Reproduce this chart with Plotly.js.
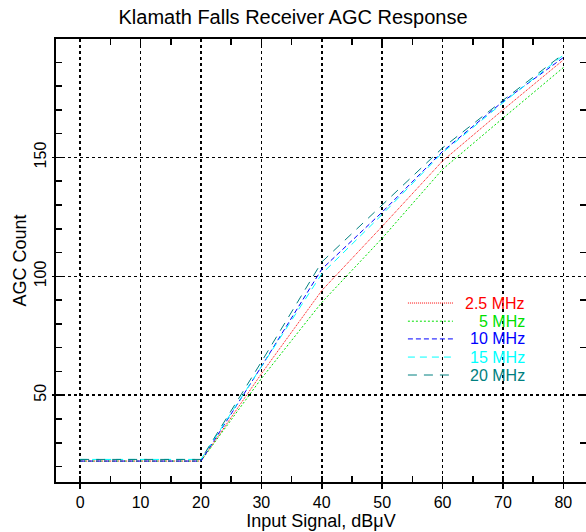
<!DOCTYPE html>
<html>
<head>
<meta charset="utf-8">
<script src="https://cdn.plot.ly/plotly-3.0.1.min.js"></script>
<style>html,body{margin:0;padding:0;background:#fff;}#chart{width:586px;height:532px;}</style>
</head>
<body>
<div id="chart"></div>
<script>
// Input signal, dBµV
const inputSignal = [0, 10, 20, 30, 40, 50, 60, 70, 80];
// AGC counts for each frequency
const agc2p5MHz = [22.3, 22.3, 22.3, 59, 94, 121, 148.5, 170, 191];
const agc5MHz   = [22.3, 22.3, 22.3, 57, 89, 116, 145, 166.5, 187.8];
const agc10MHz  = [22.3, 22.3, 22.3, 62, 103, 127, 152.5, 173.5, 192];
const agc15MHz  = [23, 23, 23, 62, 101, 126, 152, 173, 193];
const agc20MHz  = [23, 23, 23, 64, 106, 130, 154, 174, 193.5];
const seriesNames = ['2.5 MHz', '5 MHz', '10 MHz', '15 MHz', '20 MHz'];
const seriesValues = [agc2p5MHz, agc5MHz, agc10MHz, agc15MHz, agc20MHz];

const colors = ['#ff0000', '#00e000', '#0000ff', '#00ffff', '#008080'];
const dashes = ['1px,1px', '2px,2px', '5px,3px', '7px,5px', '9px,7px'];

const traces = seriesValues.map((vals, i) => ({
  x: inputSignal, y: vals, type: 'scatter', mode: 'lines', name: seriesNames[i],
  line: {color: colors[i], width: 1, dash: dashes[i]}, showlegend: false
}));

const font = {family: 'Liberation Sans, Arial, sans-serif', color: '#000'};
const legendY = [0.404, 0.363, 0.323, 0.282, 0.2415];
const annotations = seriesNames.map((n, i) => ({
  xref: 'paper', yref: 'paper', x: 0.889, y: legendY[i], xanchor: 'right', yanchor: 'middle',
  text: n, showarrow: false, font: {family: font.family, size: 16, color: colors[i]}
}));
const shapes = seriesNames.map((n, i) => ({
  type: 'line', xref: 'paper', yref: 'paper', x0: 0.664, x1: 0.749, y0: legendY[i], y1: legendY[i],
  line: {color: colors[i], width: 1, dash: dashes[i]}
}));

const layout = {
  width: 586, height: 532,
  margin: {l: 56, r: 0, t: 39, b: 50},
  paper_bgcolor: '#fff', plot_bgcolor: '#fff',
  font: font,
  title: {text: 'Klamath Falls Receiver AGC Response', x: 0.5, xanchor: 'center', y: 0.968, yanchor: 'middle',
          font: {family: font.family, size: 20, color: '#000'}},
  xaxis: {
    range: [-4, 83.75], tickvals: [0,10,20,30,40,50,60,70,80], ticktext: ['0','10','20','30','40','50','60','70','80'],
    ticks: 'outside', ticklen: 5, tickcolor: '#000', tickwidth: 1.5,
    showline: true, linecolor: '#000', linewidth: 2, mirror: true,
    showgrid: true, gridcolor: '#000', griddash: 'dot', gridwidth: 1.5, zeroline: false,
    minor: {dtick: 5, tick0: 0, ticks: 'inside', ticklen: 6, tickcolor: '#000', tickwidth: 1.5, showgrid: false},
    tickfont: {family: font.family, size: 16, color: '#000'},
    title: {text: 'Input Signal, dBμV', font: {family: font.family, size: 18, color: '#000'}, standoff: 4}
  },
  xaxis2: {
    overlaying: 'x', matches: 'x', side: 'top', showticklabels: false, showgrid: false, zeroline: false,
    ticks: '', minor: {dtick: 5, tick0: 0, ticks: 'inside', ticklen: 6, tickcolor: '#000', tickwidth: 1.5, showgrid: false}
  },
  yaxis: {
    range: [13.5, 199.8], tickvals: [50, 100, 150], ticktext: ['50', '100', '150'], tickangle: -90,
    ticks: 'outside', ticklen: 2, tickcolor: '#000', tickwidth: 1.5,
    showline: true, linecolor: '#000', linewidth: 2, mirror: true,
    showgrid: true, gridcolor: '#000', griddash: 'dot', gridwidth: 1.5, zeroline: false,
    minor: {dtick: 10, tick0: 0, ticks: 'inside', ticklen: 6, tickcolor: '#000', tickwidth: 1.5, showgrid: false},
    tickfont: {family: font.family, size: 16, color: '#000'},
    title: {text: 'AGC Count', font: {family: font.family, size: 18, color: '#000'}, standoff: 0}
  },
  yaxis2: {
    overlaying: 'y', matches: 'y', side: 'right', showticklabels: false, showgrid: false, zeroline: false,
    ticks: '', minor: {dtick: 10, tick0: 0, ticks: 'inside', ticklen: 6, tickcolor: '#000', tickwidth: 1.5, showgrid: false}
  },
  annotations: annotations,
  shapes: shapes
};

// invisible trace that activates the mirrored top/right tick axes
traces.push({x: [inputSignal[0]], y: [agc2p5MHz[0]], xaxis: 'x2', yaxis: 'y2', mode: 'markers',
  marker: {opacity: 0}, showlegend: false, hoverinfo: 'skip'});

Plotly.newPlot('chart', traces, layout, {displayModeBar: false, staticPlot: true});
</script>
</body>
</html>
